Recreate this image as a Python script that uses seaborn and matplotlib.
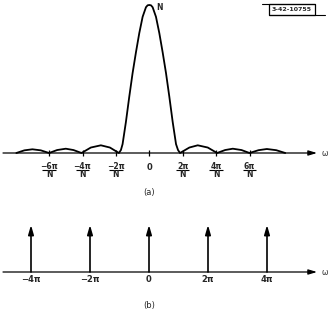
import numpy as np
import matplotlib
matplotlib.use("Agg")
import matplotlib.pyplot as plt
import seaborn as sns

# (a) spectrum magnitude, x in units of 2*pi/N, y in units of N
omega_a = [-3.98, -3.74, -3.5, -3.25, -3.0, -2.76, -2.5, -2.27, -2.03,
           -1.75, -1.45, -1.18, -0.91, -0.85, -0.8, -0.7, -0.6, -0.5, -0.4,
           -0.3, -0.2, -0.1, -0.05, 0.0, 0.05, 0.1, 0.2, 0.3, 0.4, 0.5, 0.6,
           0.7, 0.8, 0.86, 0.92, 1.2, 1.45, 1.75, 2.03, 2.27, 2.5, 2.76,
           3.0, 3.27, 3.52, 3.8, 4.07]
mag_a = [0.0, 0.018, 0.025, 0.018, 0.0, 0.02, 0.029, 0.02, 0.0,
         0.037, 0.052, 0.037, 0.0, 0.02, 0.06, 0.21, 0.38, 0.54, 0.68,
         0.81, 0.92, 0.985, 0.998, 1.0, 0.998, 0.985, 0.92, 0.81, 0.68, 0.54, 0.38,
         0.21, 0.06, 0.02, 0.0, 0.037, 0.052, 0.037, 0.0, 0.02, 0.029, 0.02,
         0.0, 0.019, 0.027, 0.019, 0.0]
ticks_a = [-3, -2, -1, 0, 1, 2, 3]
num_a = ["−6π", "−4π", "−2π", "0", "2π", "4π", "6π"]

# (b) impulse train, x in units of pi
impulse_pos = [-4, -2, 0, 2, 4]
impulse_h = [1, 1, 1, 1, 1]
labels_b = ["−4π", "−2π", "0", "2π", "4π"]

sns.set_style("white")
plt.rcParams["font.family"] = ["DejaVu Sans"]

W, H = 329, 312
fig = plt.figure(figsize=(W / 100, H / 100), dpi=100)

# top panel: pixel rows 0..200
ax1 = fig.add_axes([0, 1 - 200 / H, 1, 200 / H])
ax1.set_xlim((0 - 149.3) / 33.4, (W - 149.3) / 33.4)
ax1.set_ylim((153 - 200) / 148, 153 / 148)
ax1.axis("off")

sns.lineplot(x=omega_a, y=mag_a, color="black", linewidth=1.3, sort=False, ax=ax1)
ax1.annotate("", xy=((317 - 149.3) / 33.4, 0), xytext=((3 - 149.3) / 33.4, 0),
             arrowprops=dict(arrowstyle="-|>,head_length=0.5,head_width=0.15",
                             color="black", lw=0.9, shrinkA=0, shrinkB=0))
ax1.vlines(ticks_a, -0.022, 0.022, color="black", lw=0.9)
ax1.text((321 - 149.3) / 33.4, -0.005, "ω", fontsize=5.5, ha="left", va="center")
ax1.text(0.22, 0.985, "N", fontsize=5.5, ha="left", va="center", fontweight="bold")
for t, s in zip(ticks_a, num_a):
    if s == "0":
        ax1.text(t, -0.095, s, fontsize=6, ha="center", va="center", fontweight="bold")
    else:
        ax1.text(t, -0.093, s, fontsize=5.5, ha="center", va="center", fontweight="bold")
        ax1.hlines(-0.118, t - 0.2, t + 0.2, color="black", lw=0.8)
        ax1.text(t, -0.148, "N", fontsize=5.5, ha="center", va="center", fontweight="bold")
ax1.text(0, -0.27, "(a)", fontsize=6, ha="center", va="center")

# bottom panel: pixel rows 200..312
ax2 = fig.add_axes([0, 0, 1, 112 / H])
ax2.set_xlim((0 - 149) / 29.5, (W - 149) / 29.5)
ax2.set_ylim((272 - 312) / 47, (272 - 200) / 47)
ax2.axis("off")
ax2.annotate("", xy=((317 - 149) / 29.5, 0), xytext=((3 - 149) / 29.5, 0),
             arrowprops=dict(arrowstyle="-|>,head_length=0.5,head_width=0.15",
                             color="black", lw=0.9, shrinkA=0, shrinkB=0))
for p, h in zip(impulse_pos, impulse_h):
    ax2.annotate("", xy=(p, h), xytext=(p, 0),
                 arrowprops=dict(arrowstyle="-|>,head_length=0.55,head_width=0.16",
                                 color="black", lw=1.2, shrinkA=0, shrinkB=0))
for p, s in zip(impulse_pos, labels_b):
    ax2.text(p, -0.15, s, fontsize=6, ha="center", va="center", fontweight="bold")
ax2.text((321 - 149) / 29.5, -0.02, "ω", fontsize=5.5, ha="left", va="center")
ax2.text(0, -0.72, "(b)", fontsize=6, ha="center", va="center")

# figure number box
fig.add_artist(plt.Rectangle((269 / W, 1 - 15 / H), 46 / W, 11 / H, fill=False,
                             ec="black", lw=0.9, transform=fig.transFigure))
fig.text(292 / W, 1 - 9.8 / H, "3-42-10755", fontsize=4.5, ha="center", va="center",
         fontweight="bold")
fig.add_artist(plt.Line2D([262 / W, 315 / W], [1 - 4 / H, 1 - 4 / H], color="black", lw=0.8))
fig.add_artist(plt.Line2D([269 / W, 325 / W], [1 - 15 / H, 1 - 15 / H], color="black", lw=0.8))

fig.savefig("out.png", dpi=100)
